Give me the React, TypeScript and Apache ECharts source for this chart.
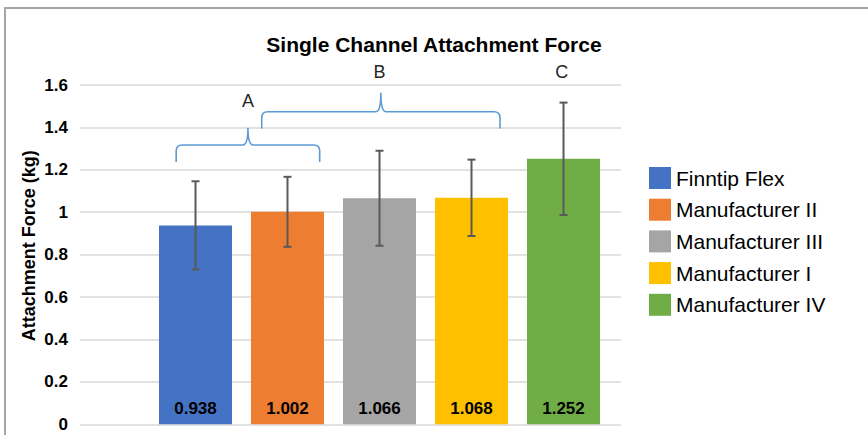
import React, { useEffect, useRef } from "react";
import * as echarts from "echarts";

const categories = ["Finntip Flex", "Manufacturer II", "Manufacturer III", "Manufacturer I", "Manufacturer IV"];
const means = [0.938, 1.002, 1.066, 1.068, 1.252];
const errors = [0.208, 0.165, 0.224, 0.18, 0.265];
const colors = ["#4472C4", "#ED7D31", "#A5A5A5", "#FFC000", "#70AD47"];

const yMin = 0;
const yMax = 1.6;
const yStep = 0.2;

// brace annotations (x in category index units, y in kg)
const braceFrom = [-0.21, 0.72];
const braceTo = [1.35, 3.31];
const braceLine = [1.317, 1.474];
const braceTip = [1.398, 1.563];
const braceFoot = [1.237, 1.395];

const groupLetters = ["A", "B", "C"];
const letterX = [0.57, 2.0, 3.98];
const letterY = [1.526, 1.66, 1.66];

const FONT = "'Liberation Sans', Arial, Helvetica, sans-serif";

export default function App() {
  const ref = useRef<HTMLDivElement>(null);

  useEffect(() => {
    if (!ref.current) return;
    const chart = echarts.init(ref.current, null, { renderer: "svg" });

    const xAt = (api: any, x: number, y: number) => {
      const p0 = api.coord([0, y]);
      const bw = api.size([1, 0])[0];
      return [p0[0] + x * bw, p0[1]];
    };

    const barSeries = categories.map((name, i) => ({
      name,
      type: "bar",
      xAxisIndex: 1,
      yAxisIndex: 1,
      barWidth: 73,
      barGap: "-100%",
      itemStyle: { color: colors[i] },
      data: means.map((v, j) => (j === i ? v : "-")),
      label: {
        show: true,
        position: "insideBottom",
        distance: 7,
        fontFamily: FONT,
        fontSize: 17,
        fontWeight: "bold",
        color: "#000",
        formatter: (p: any) => Number(p.value).toFixed(3),
      },
      z: 2,
    }));

    const errorData = means.map((m, i) => [i, m - errors[i], m + errors[i]]);

    const option: any = {
      animation: false,
      backgroundColor: "#fff",
      title: {
        text: "Single Channel Attachment Force",
        left: "center",
        top: 29,
        textStyle: { fontFamily: FONT, fontSize: 21, fontWeight: "bold", color: "#000" },
      },
      legend: {
        orient: "vertical",
        left: 649,
        top: 167,
        padding: 0,
        itemWidth: 22,
        itemHeight: 22,
        itemGap: 9.7,
        icon: "rect",
        data: categories,
        textStyle: { fontFamily: FONT, fontSize: 21, color: "#000" },
      },
      grid: [
        { left: 80, right: 247, top: 85, bottom: 10.7 },
        { left: 149.5, right: 258.5, top: 85, bottom: 10.7 },
      ],
      xAxis: [
        { type: "category", gridIndex: 0, data: [""], show: false },
        { type: "category", gridIndex: 1, data: categories, show: false },
      ],
      yAxis: [
        {
          type: "value",
          gridIndex: 0,
          min: yMin,
          max: yMax,
          interval: yStep,
          name: "Attachment Force (kg)",
          nameLocation: "middle",
          nameGap: 42,
          nameMoveOverlap: false,
          nameTextStyle: {
            fontFamily: FONT,
            fontSize: 18,
            fontWeight: "bold",
            color: "#000",
            padding: [0, 0, 0, 18],
          },
          axisLine: { show: false },
          axisTick: { show: false },
          axisLabel: { fontFamily: FONT, fontSize: 17, fontWeight: "bold", color: "#000", margin: 12 },
          splitLine: { lineStyle: { color: "#d9d9d9", width: 1.5 } },
        },
        { type: "value", gridIndex: 1, min: yMin, max: yMax, interval: yStep, show: false },
      ],
      graphic: [
        {
          type: "rect",
          shape: { x: 5, y: 8, width: 880, height: 460 },
          style: { fill: "none", stroke: "#a6a6a6", lineWidth: 2 },
          silent: true,
        },
      ],
      series: [
        ...barSeries,
        {
          type: "custom",
          name: "error",
          xAxisIndex: 1,
          yAxisIndex: 1,
          z: 5,
          data: errorData,
          renderItem: (params: any, api: any) => {
            const x = api.value(0);
            const lo = api.coord([x, api.value(1)]);
            const hi = api.coord([x, api.value(2)]);
            const cap = 4;
            const style = { stroke: "#595959", lineWidth: 2 };
            return {
              type: "group",
              children: [
                { type: "line", shape: { x1: lo[0], y1: lo[1], x2: hi[0], y2: hi[1] }, style },
                { type: "line", shape: { x1: hi[0] - cap, y1: hi[1], x2: hi[0] + cap, y2: hi[1] }, style },
                { type: "line", shape: { x1: lo[0] - cap, y1: lo[1], x2: lo[0] + cap, y2: lo[1] }, style },
              ],
            };
          },
        },
        {
          type: "custom",
          name: "braces",
          xAxisIndex: 1,
          yAxisIndex: 1,
          z: 6,
          silent: true,
          data: braceFrom.map((f, i) => [f, braceTo[i], braceLine[i], braceTip[i], braceFoot[i]]),
          renderItem: (params: any, api: any) => {
            const a = xAt(api, api.value(0), api.value(2));
            const b = xAt(api, api.value(1), api.value(2));
            const yH = a[1];
            const x1 = a[0];
            const x2 = b[0];
            const xm = (x1 + x2) / 2;
            const yTip = api.coord([0, api.value(3)])[1];
            const yFoot = api.coord([0, api.value(4)])[1];
            const r = 6;
            const t = 5;
            const d =
              `M${x1},${yFoot} L${x1},${yH + r} Q${x1},${yH} ${x1 + r},${yH} ` +
              `L${xm - t},${yH} Q${xm},${yH} ${xm},${yTip} Q${xm},${yH} ${xm + t},${yH} ` +
              `L${x2 - r},${yH} Q${x2},${yH} ${x2},${yH + r} L${x2},${yFoot}`;
            return {
              type: "path",
              shape: { pathData: d },
              style: { fill: "none", stroke: "#5B9BD5", lineWidth: 1.6 },
            };
          },
        },
        {
          type: "custom",
          name: "letters",
          xAxisIndex: 1,
          yAxisIndex: 1,
          z: 6,
          silent: true,
          data: groupLetters.map((l, i) => [letterX[i], letterY[i], i]),
          renderItem: (params: any, api: any) => {
            const p = xAt(api, api.value(0), api.value(1));
            return {
              type: "text",
              x: p[0],
              y: p[1],
              style: {
                text: groupLetters[api.value(2)],
                fontFamily: FONT,
                fontSize: 18,
                fill: "#262626",
                align: "center",
                verticalAlign: "middle",
              },
            };
          },
        },
      ],
    };

    chart.setOption(option);
    return () => chart.dispose();
  }, []);

  return (
    <div
      ref={ref}
      style={{ position: "fixed", left: 0, top: 0, width: 868, height: 435, background: "#fff" }}
    />
  );
}
